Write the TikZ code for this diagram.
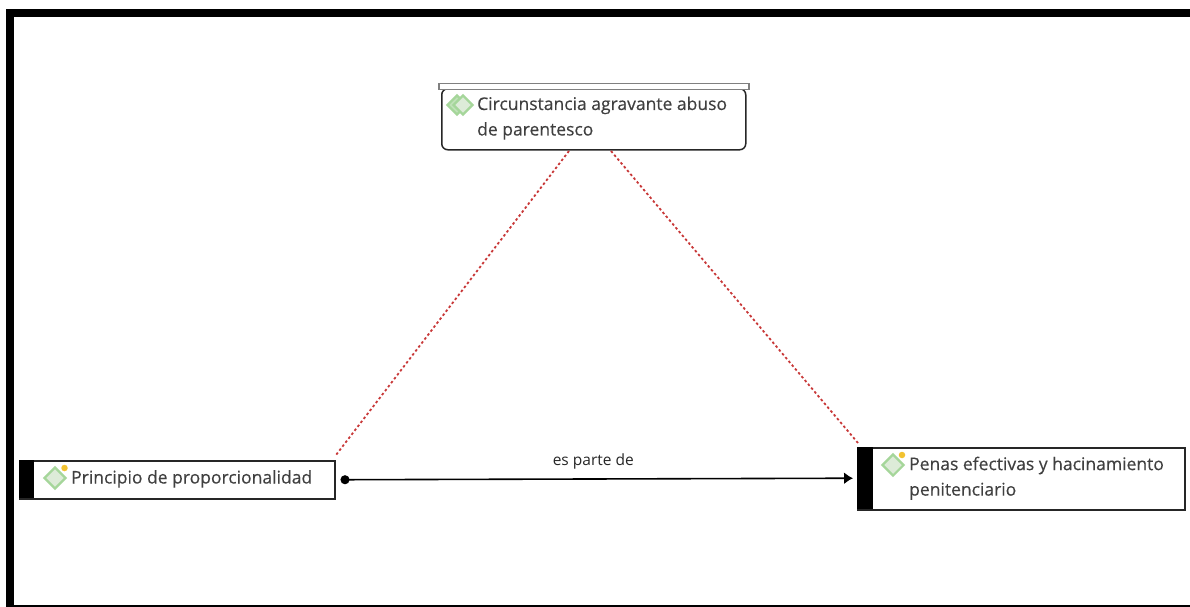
\documentclass[tikz,border=0pt]{standalone}
\usepackage{fontspec}
\setmainfont{Open Sans}
\newfontfamily\labelfont[FakeBold=0.3]{Open Sans}
\usetikzlibrary{arrows.meta,shapes.geometric}
\definecolor{txtgray}{HTML}{404040}
\definecolor{icongreen}{HTML}{A5D69A}
\definecolor{iconfill}{HTML}{DDEBD8}
\definecolor{icondot}{HTML}{F2C230}
\definecolor{linered}{HTML}{C83838}
\tikzset{
  concept/.style={draw=black!85, line width=1.5pt, fill=white, minimum height=38pt, anchor=north west, inner sep=0pt},
  band/.style={fill=black, inner sep=0pt, anchor=north west},
  label/.style={text=txtgray, font=\labelfont\fontsize{17.5}{25.5}\selectfont, align=left, anchor=north west, inner sep=0pt},
  diam/.style={diamond, draw=icongreen, fill=iconfill, line width=2.2pt, minimum size=22pt, inner sep=0pt},
  spot/.style={circle, fill=icondot, minimum size=6.5pt, inner sep=0pt},
  relation/.style={draw=linered, line width=1.8pt, dash pattern=on 2.5pt off 2.5pt}
}
\begin{document}
\begin{tikzpicture}[x=1pt,y=-1pt]
\useasboundingbox (0,0) rectangle (1190,607);
\fill[black] (6,9) rectangle (1190,17);
\fill[black] (6,9) rectangle (14,607);
\fill[black] (6,605) rectangle (1190,607);

\node[concept, minimum width=304pt, minimum height=61pt, rounded corners=6pt] (agravante) at (441,88) {};
\node[draw=gray, line width=1.5pt, fill=white, minimum width=310pt, minimum height=6pt, inner sep=0pt, anchor=north west] (tapa) at (438,83) {};
\node[concept, minimum width=315pt] (principio) at (19,460) {};
\node[concept, minimum width=327pt, minimum height=62pt] (penas) at (857,447) {};
\node[band, minimum width=15pt, minimum height=38pt] (bandaprincipio) at (19,460) {};
\node[band, minimum width=16pt, minimum height=62pt] (bandapenas) at (857,447) {};

\node[diam, fill=icongreen!70, minimum size=20pt] (icono0) at (457,105) {};
\node[diam, minimum size=20pt] (icono1) at (463,105) {};
\node[diam] (icono2) at (55,478) {};
\node[spot] (punto2) at (64.5,468) {};
\node[diam] (icono3) at (893,465) {};
\node[spot] (punto3) at (902,455) {};

\node[label] (textoagravante) at (477,96.5) {Circunstancia agravante abuso\\de parentesco};
\node[label] (textoprincipio) at (71,470) {Principio de proporcionalidad};
\node[label] (textopenas) at (909,456.5) {Penas efectivas y hacinamiento\\penitenciario};

\coordinate (r1) at (569,151);
\coordinate (r2) at (611,151);
\coordinate (r3) at (336,455);
\coordinate (r4) at (858,443);

\path[relation] (r1) -- (r3);
\path[relation] (r2) -- (r4);

\path[draw,line width=1.6pt,{Circle[length=9pt]}-{Latex[length=9pt,width=12pt]},shorten <=5pt,shorten >=4pt] (principio.east) -- (bandapenas.west) node[midway, above=6pt, xshift=-3pt, text=black!85, font=\fontsize{15.5}{18}\selectfont] (relacion) {es parte de};

\end{tikzpicture}
\end{document}
